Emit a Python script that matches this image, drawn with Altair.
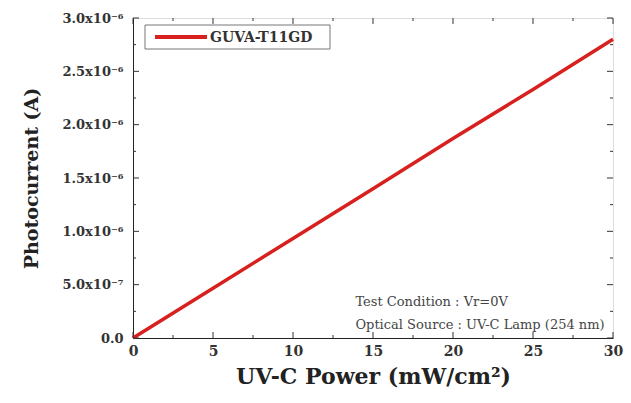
import altair as alt
import pandas as pd

# data
power = [0, 5, 10, 15, 20, 25, 30]
current = [0.0, 4.67e-7, 9.33e-7, 1.40e-6, 1.87e-6, 2.33e-6, 2.80e-6]
series = ["GUVA-T11GD"] * len(power)

x_major = [0, 5, 10, 15, 20, 25, 30]
x_minor = [2.5, 7.5, 12.5, 17.5, 22.5, 27.5]
y_major = [0, 5e-7, 1e-6, 1.5e-6, 2e-6, 2.5e-6, 3e-6]
y_minor = [2.5e-7, 7.5e-7, 1.25e-6, 1.75e-6, 2.25e-6, 2.75e-6]
y_labels = ["0.0", "5.0x10⁻⁷", "1.0x10⁻⁶", "1.5x10⁻⁶", "2.0x10⁻⁶", "2.5x10⁻⁶", "3.0x10⁻⁶"]

notes = ["Test Condition : Vr=0V", "Optical Source : UV-C Lamp (254 nm)"]
note_x = [13.9, 13.9]
note_y = [3.4e-7, 1.25e-7]

W, H = 480, 320
FONT = "DejaVu Serif"
RED = "#d8201e"

df = pd.DataFrame({"power": power, "current": current, "series": series})
xs = alt.Scale(domain=[0, 30], nice=False, zero=True)
ys = alt.Scale(domain=[0, 3e-6], nice=False, zero=True)

label_expr = "[" + ",".join("'%s'" % s for s in y_labels) + "][round(datum.value/5e-7)]"

line = alt.Chart(df).mark_line(strokeWidth=3.5, color=RED).encode(
    x=alt.X("power:Q", scale=xs,
            axis=alt.Axis(values=x_major, ticks=False, grid=False, title="UV-C Power (mW/cm²)",
                          labelFont=FONT, labelFontSize=14, labelFontWeight="bold", labelColor="#333",
                          labelPadding=6, titleFont=FONT, titleFontSize=22, titleFontWeight="bold",
                          titleColor="#222", titlePadding=8, domainColor="#222", labelFlush=False)),
    y=alt.Y("current:Q", scale=ys,
            axis=alt.Axis(values=y_major, ticks=False, grid=False, title="Photocurrent (A)",
                          labelExpr=label_expr,
                          labelFont=FONT, labelFontSize=13, labelFontWeight="bold", labelColor="#333",
                          labelPadding=10, titleFont=FONT, titleFontSize=19, titleFontWeight="bold",
                          titleColor="#222", titlePadding=20, domainColor="#222", labelFlush=False)),
)

def ticks_x(vals, length):
    d = pd.DataFrame({"v": vals})
    b = alt.Chart(d).mark_rule(color="#333", strokeWidth=1).encode(
        x=alt.X("v:Q", scale=xs), y=alt.value(H), y2=alt.value(H - length))
    t = alt.Chart(d).mark_rule(color="#333", strokeWidth=1).encode(
        x=alt.X("v:Q", scale=xs), y=alt.value(0), y2=alt.value(length))
    return [b, t]

def ticks_y(vals, length):
    d = pd.DataFrame({"v": vals})
    l = alt.Chart(d).mark_rule(color="#333", strokeWidth=1).encode(
        y=alt.Y("v:Q", scale=ys), x=alt.value(0), x2=alt.value(length))
    r = alt.Chart(d).mark_rule(color="#333", strokeWidth=1).encode(
        y=alt.Y("v:Q", scale=ys), x=alt.value(W), x2=alt.value(W - length))
    return [l, r]

tick_layers = ticks_x(x_major, 6) + ticks_x(x_minor, 3) + ticks_y(y_major, 6) + ticks_y(y_minor, 3)

# legend (drawn by hand)
leg = pd.DataFrame({"series": [series[0]]})
leg_box = alt.Chart(leg).mark_rect(fill="white", stroke="#777", strokeWidth=1).encode(
    x=alt.value(12), x2=alt.value(197), y=alt.value(7), y2=alt.value(31))
leg_line = alt.Chart(leg).mark_rule(color=RED, strokeWidth=4).encode(
    x=alt.value(22), x2=alt.value(74), y=alt.value(19))
leg_text = alt.Chart(leg).mark_text(align="left", baseline="middle", font=FONT, fontSize=14,
                                    fontWeight="bold", color="#333").encode(
    x=alt.value(77), y=alt.value(19.5), text="series:N")

ndf = pd.DataFrame({"x": note_x, "y": note_y, "t": notes})
note_layer = alt.Chart(ndf).mark_text(align="left", baseline="middle", font=FONT, fontSize=13,
                                      color="#444").encode(
    x=alt.X("x:Q", scale=xs), y=alt.Y("y:Q", scale=ys), text="t:N")

chart = alt.layer(line, *tick_layers, note_layer, leg_box, leg_line, leg_text).properties(
    width=W, height=H,
    autosize=alt.AutoSizeParams(type="none"),
    padding={"left": 125, "top": 10, "right": 10, "bottom": 57},
).configure_view(stroke="#222", strokeWidth=1.2).configure(background="white")

chart.save("out.html", embed_options={"renderer": "svg", "actions": False})
